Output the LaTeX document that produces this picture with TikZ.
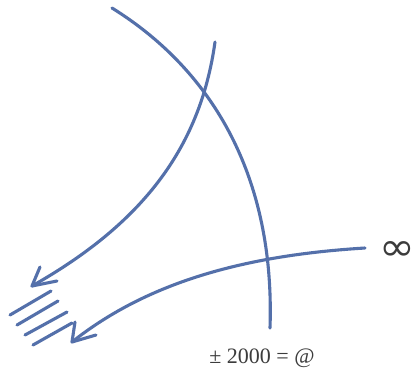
\documentclass[tikz,border=0pt]{standalone}
\usepackage{fontspec}
\setmainfont{Liberation Serif}
\newfontfamily\symfont{DejaVu Sans}
\begin{document}
\begin{tikzpicture}[x=1pt,y=-1pt,
  stroke/.style={draw={rgb,255:red,84;green,112;blue,170},line width=3.1pt,line cap=round,line join=round},
  lbl/.style={text={rgb,255:red,60;green,60;blue,60},inner sep=0pt}]
\useasboundingbox[fill=white] (0,0) rectangle (417,381);
% curves
\coordinate (a1) at (112,8); \coordinate (a2) at (270,328);
\draw[stroke] (a1) .. controls (215,72) and (275,180) .. (a2);
\coordinate (b1) at (215,42); \coordinate (b2) at (32,286);
\draw[stroke] (b1) .. controls (200,150) and (140,225) .. (b2);
\coordinate (c1) at (365,248); \coordinate (c2) at (72,342);
\draw[stroke] (c1) .. controls (250,255) and (150,280) .. (c2);
% arrowheads
\draw[stroke] (40,267) -- (b2) -- (57,281);
\draw[stroke] (75,322) -- (c2) -- (96,335);
% hatch lines
\draw[stroke] (10,315) -- (51,291);
\draw[stroke] (17,325) -- (58,301);
\draw[stroke] (25,335) -- (67,312);
\draw[stroke] (33,345) -- (72,323);
% labels
\node[lbl,font=\fontsize{22}{26}\selectfont] (t) at (262,358) {± 2000 = @};
\node[lbl,font=\symfont\fontsize{39}{40}\selectfont,xscale=1.1] (inf) at (397,251) {∞};
\end{tikzpicture}
\end{document}
